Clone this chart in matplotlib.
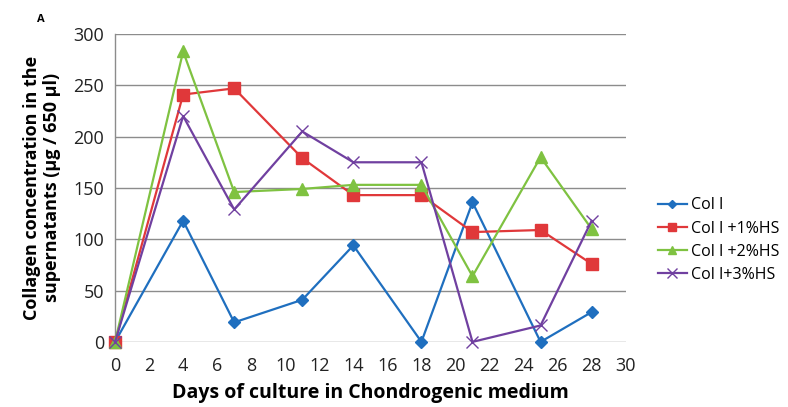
import matplotlib
matplotlib.use("Agg")
import matplotlib.pyplot as plt

days = [0, 4, 7, 11, 14, 18, 21, 25, 28]
col1 = [0, 118, 19, 41, 94, 0, 136, 0, 29]
col1_1hs = [0, 241, 247, 179, 143, 143, 107, 109, 76]
col1_2hs = [0, 283, 146, 149, 153, 153, 64, 180, 110]
col1_3hs = [0, 220, 129, 205, 175, 175, 0, 16, 118]
labels = ["Col I", "Col I +1%HS", "Col I +2%HS", "Col I+3%HS"]
xticks = list(range(0, 31, 2))
yticks = list(range(0, 301, 50))

plt.rcParams['font.family'] = ['Open Sans', 'DejaVu Sans']

fig = plt.figure(figsize=(7.88, 4.07), dpi=100)
ax = fig.add_axes([0.146, 0.160, 0.648, 0.7565])

ax.plot(days, col1, color='#1f6fbf', marker='D', markersize=6, lw=1.6, label=labels[0], zorder=3)
ax.plot(days, col1_1hs, color='#e0383a', marker='s', markersize=8, lw=1.6, label=labels[1], zorder=3)
ax.plot(days, col1_2hs, color='#7fc241', marker='^', markersize=8, lw=1.6, label=labels[2], zorder=3)
ax.plot(days, col1_3hs, color='#7040a0', marker='x', markersize=9, mew=1.0, lw=1.6, label=labels[3], zorder=3)

ax.set_xlim(0, 30)
ax.set_ylim(0, 300)
ax.set_xticks(xticks)
ax.set_yticks(yticks)
ax.tick_params(axis='both', length=0, labelsize=13, pad=11, colors='#222222')
ax.tick_params(axis='y', pad=8)
ax.grid(axis='y', color='#8c8c8c', lw=1.0, zorder=0)
for s in ['top', 'right', 'bottom']:
    ax.spines[s].set_visible(False)
ax.spines['left'].set_color('#8c8c8c')
ax.spines['left'].set_linewidth(1.0)
for line in ax.get_lines():
    line.set_clip_on(False)

ax.set_xlabel("Days of culture in Chondrogenic medium", fontsize=14, fontweight='bold', labelpad=6)
ax.set_ylabel("Collagen concentration in the\nsupernatants (µg / 650 µl)", fontsize=13, fontweight='bold', labelpad=9, linespacing=1.15)

fig.text(0.047, 0.945, "A", fontsize=8, fontweight='bold')

leg = ax.legend(loc='center left', bbox_to_anchor=(1.035, 0.33), frameon=False, fontsize=11.5,
                handlelength=1.8, handletextpad=0.25, labelspacing=0.45, markerscale=0.75)

fig.savefig("out.png", dpi=100)
